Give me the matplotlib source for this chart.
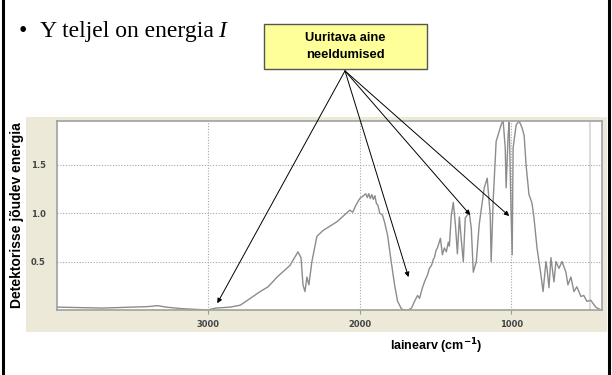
import numpy as np
import matplotlib
matplotlib.use("Agg")
import matplotlib.pyplot as plt
from matplotlib.patches import Rectangle
from matplotlib.lines import Line2D

# spectrum: wavenumber (cm-1) and detector energy
wavenumber = [4000, 3850, 3700, 3500, 3400, 3336, 3280, 3184, 3007, 2950,
              2855, 2789, 2724, 2658, 2605, 2546, 2461, 2408, 2388, 2375,
              2362, 2349, 2336, 2316, 2283, 2243, 2151, 2066, 2046, 2026,
              2000, 1975, 1960, 1950, 1940, 1930, 1920, 1910, 1900, 1890,
              1880, 1868, 1850, 1835, 1816, 1796, 1770, 1750, 1724, 1704,
              1680, 1658, 1638, 1618, 1605, 1586, 1570, 1553, 1540, 1526,
              1515, 1507, 1495, 1487, 1475, 1467, 1454, 1441, 1428, 1415,
              1408, 1395, 1382, 1368, 1355, 1342, 1329, 1316, 1303, 1289,
              1276, 1263, 1250, 1230, 1211, 1178, 1158, 1138, 1132, 1118,
              1099, 1080, 1066, 1053, 1039, 1033, 1020, 1013, 1000, 993,
              987, 967, 947, 928, 914, 901, 882, 868, 862, 849,
              829, 803, 789, 770, 763, 750, 737, 717, 704, 684,
              664, 638, 625, 605, 585, 566, 539, 520, 500, 474,
              441, 408, 400]
energy = [0.03, 0.025, 0.02, 0.03, 0.035, 0.045, 0.03, 0.015, 0.00, 0.02,
          0.03, 0.05, 0.12, 0.19, 0.24, 0.34, 0.46, 0.60, 0.54, 0.26,
          0.19, 0.34, 0.26, 0.50, 0.76, 0.82, 0.91, 1.03, 1.01, 1.08,
          1.15, 1.18, 1.20, 1.16, 1.20, 1.15, 1.19, 1.14, 1.18, 1.10,
          1.08, 1.00, 0.98, 0.90, 0.77, 0.54, 0.26, 0.09, 0.01, 0.00,
          0.00, 0.02, 0.09, 0.15, 0.12, 0.23, 0.30, 0.36, 0.43, 0.46,
          0.52, 0.54, 0.62, 0.64, 0.70, 0.74, 0.57, 0.64, 0.60, 0.70,
          0.66, 0.98, 1.11, 0.88, 0.58, 0.96, 0.72, 0.50, 0.95, 0.98,
          1.00, 0.84, 0.39, 0.50, 0.88, 1.26, 1.36, 0.98, 0.50, 1.15,
          1.74, 1.84, 1.91, 1.96, 1.67, 1.26, 1.80, 1.94, 0.98, 0.57,
          1.67, 1.91, 1.95, 1.88, 1.80, 1.49, 1.19, 1.13, 1.10, 0.95,
          0.64, 0.36, 0.19, 0.50, 0.43, 0.23, 0.54, 0.29, 0.50, 0.43,
          0.50, 0.39, 0.26, 0.34, 0.19, 0.24, 0.14, 0.15, 0.09, 0.10,
          0.03, 0.00, 0.00]

x_ticks = [3000, 2000, 1000]
y_ticks = [0.5, 1.0, 1.5]
# absorptions pointed at by the arrows (wavenumber, energy)
arrow_targets = [(2941, 0.07), (1678, 0.34), (1270, 0.98), (1013, 0.97)]

fig = plt.figure(figsize=(6.12, 3.75), dpi=100)
fig.patch.set_facecolor("white")

# beige panel behind the plot
fig.patches.append(Rectangle((0.0425, 0.1147), 0.949, 0.5733,
                             transform=fig.transFigure, facecolor="#ECE9D8",
                             edgecolor="none", zorder=-1))

ax = fig.add_axes([0.0931, 0.1733, 0.8905, 0.504])
ax.set_zorder(2)
ax.set_facecolor("white")
ax.plot(wavenumber, energy, color="#8c8c8c", lw=1.0)
ax.axvline(480, color="#dcdcdc", lw=1.5, zorder=0)
ax.set_xlim(4000, 400)
ax.set_ylim(0, 1.95)
ax.set_xticks(x_ticks)
ax.set_xticklabels([str(t) for t in x_ticks])
ax.set_yticks(y_ticks)
ax.set_yticklabels(["%.1f" % t for t in y_ticks])
ax.grid(True, color="#a8a8a8", linestyle=(0, (1, 1.5)), lw=0.8)
ax.tick_params(axis="both", labelsize=6, colors="#9a9a9a", length=3, width=0.8)
for lab in ax.get_xticklabels() + ax.get_yticklabels():
    lab.set_color("#444444")
    lab.set_fontweight("bold")
ax.tick_params(axis="x", pad=4)
ax.tick_params(axis="y", length=0, pad=8)
for side in ["top", "right", "bottom", "left"]:
    ax.spines[side].set_color("#a0a0a0")
    ax.spines[side].set_linewidth(1.2)

fig.text(0.027, 0.427, "Detektorisse jõudev energia", rotation=90,
         ha="center", va="center", fontsize=10, fontweight="bold",
         family="Liberation Sans")
fig.text(0.712, 0.078, "lainearv (cm$^{\\mathbf{-1}}$)", ha="center", va="center",
         fontsize=9, fontweight="bold", family="Liberation Sans")

# bullet line
fig.text(0.031, 0.915, "•", ha="left", va="center", fontsize=17,
         family="Liberation Serif")
fig.text(0.066, 0.915, "Y teljel on energia", ha="left", va="center",
         fontsize=17, family="Liberation Serif")
fig.text(0.356, 0.915, "I", ha="left", va="center", fontsize=17,
         family="Liberation Serif", style="italic")

# yellow call-out box
fig.patches.append(Rectangle((0.4314, 0.816), 0.2663, 0.12,
                             transform=fig.transFigure, facecolor="#FFFF99",
                             edgecolor="#555555", lw=1.0, zorder=1))
fig.text(0.5637, 0.876, "Uuritava aine\nneeldumised", ha="center", va="center",
         fontsize=9.3, fontweight="bold", family="Liberation Sans",
         linespacing=1.65)

for wn, en in arrow_targets:
    ax.annotate("", xy=(wn, en), xycoords="data",
                xytext=(0.5637, 0.811), textcoords="figure fraction",
                arrowprops=dict(arrowstyle="-|>", color="black", lw=0.7,
                                mutation_scale=7, shrinkA=0, shrinkB=0),
                annotation_clip=False)

# slide frame edges
fig.add_artist(Line2D([0.0057, 0.0057], [0, 1], transform=fig.transFigure,
                      color="black", lw=2.2))
fig.add_artist(Line2D([0.9959, 0.9959], [0, 1], transform=fig.transFigure,
                      color="black", lw=2.2))

fig.savefig("out.png", dpi=100)
